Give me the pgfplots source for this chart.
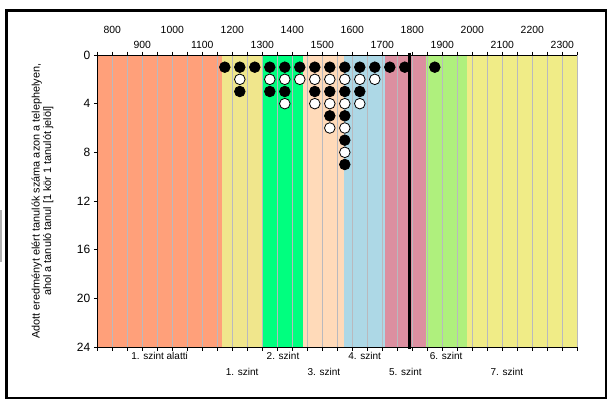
\documentclass[border=0pt]{standalone}
\usepackage{pgfplots}
\pgfplotsset{compat=1.18}
\usepackage{fontspec}
\setmainfont{Liberation Sans}
\definecolor{cAl}{RGB}{255,160,122}
\definecolor{cI}{RGB}{240,230,140}
\definecolor{cII}{RGB}{0,255,127}
\definecolor{cIII}{RGB}{255,218,185}
\definecolor{cIV}{RGB}{173,216,230}
\definecolor{cV}{RGB}{220,143,160}
\definecolor{cVI}{RGB}{175,240,125}
\definecolor{cVII}{RGB}{240,236,135}
\definecolor{gridc}{RGB}{185,185,190}
\newcommand\up[1]{\raisebox{15.3bp}{#1}}
\newcommand\dn[1]{\raisebox{-16bp}{#1}}
\begin{document}
\begin{tikzpicture}
\path (0,0) rectangle (615bp,-406bp);
\fill[gray!60] (0,-210bp) rectangle (2bp,-262bp);
\draw[line width=2.5bp] (6.5bp,-10.5bp) rectangle (606bp,-397.8bp);
\begin{axis}[
  at={(97.3bp,-55bp)}, anchor=north west,
  width=480bp, height=292bp, scale only axis,
  xmin=750, xmax=2350, ymin=0, ymax=24, y dir=reverse,
  set layers, clip=false,
  axis x line*=box, axis y line*=left,
  xtick={750,800,...,2350},
  xtick pos=both,
  xticklabel pos=right,
  xticklabels={{},\up{800},{},900,{},\up{1000},{},1100,{},\up{1200},{},1300,{},\up{1400},{},1500,{},\up{1600},{},1700,{},\up{1800},{},1900,{},\up{2000},{},2100,{},\up{2200},{},2300,{}},
  xticklabel style={anchor=base, yshift=3bp, font=\fontsize{10.4bp}{12bp}\selectfont},
  xmajorgrids, major grid style={draw=gridc, line width=0.9bp},
  ytick={0,4,...,24}, ytick pos=left,
  yticklabel style={font=\fontsize{12bp}{14bp}\selectfont},
  /pgf/number format/assume math mode=true,
  tick align=outside, major tick length=3.5bp,
  tick style={black, line width=0.8bp},
  axis line style={black, line width=0.9bp},
  ylabel={Adott eredményt elért tanulók száma azon a telephelyen,\\ahol a tanuló tanul [1 kör 1 tanulót jelöl]},
  ylabel style={at={(axis description cs:-0.114,0.5)}, anchor=center, align=center, font=\fontsize{10.9bp}{11.5bp}\selectfont},
]
\addplot[fill=cAl, draw=none, on layer=axis background] coordinates {(750,24) (1165,24)} \closedcycle;
\addplot[fill=cI, draw=none, on layer=axis background] coordinates {(1165,24) (1301,24)} \closedcycle;
\addplot[fill=cII, draw=none, on layer=axis background] coordinates {(1301,24) (1437,24)} \closedcycle;
\addplot[fill=cIII, draw=none, on layer=axis background] coordinates {(1437,24) (1573,24)} \closedcycle;
\addplot[fill=cIV, draw=none, on layer=axis background] coordinates {(1573,24) (1709,24)} \closedcycle;
\addplot[fill=cV, draw=none, on layer=axis background] coordinates {(1709,24) (1845,24)} \closedcycle;
\addplot[fill=cVI, draw=none, on layer=axis background] coordinates {(1845,24) (1981,24)} \closedcycle;
\addplot[fill=cVII, draw=none, on layer=axis background] coordinates {(1981,24) (2350,24)} \closedcycle;
\addplot[black, line width=2.5bp] coordinates {(1790,-0.2) (1790,24.2)};
\addplot[only marks, mark=*, mark size=5.3bp, mark options={fill=black, draw=black, line width=0.8bp}] coordinates {
(1175,1) (1225,1) (1225,3) (1275,1) (1325,1) (1325,3) (1375,1) (1375,3) (1425,1)
(1475,1) (1475,3) (1525,1) (1525,3) (1525,5) (1575,1) (1575,3) (1575,5) (1575,7) (1575,9)
(1625,1) (1625,3) (1675,1) (1725,1) (1775,1) (1875,1)};
\addplot[only marks, mark=*, mark size=5.3bp, mark options={fill=white, draw=black, line width=0.8bp}] coordinates {
(1225,2) (1325,2) (1375,2) (1375,4) (1425,2) (1475,2) (1475,4) (1525,2) (1525,4) (1525,6)
(1575,2) (1575,4) (1575,6) (1575,8) (1625,2) (1625,4) (1675,2)};
\end{axis}
\begin{axis}[
  at={(97.3bp,-55bp)}, anchor=north west,
  width=480bp, height=292bp, scale only axis,
  xmin=750, xmax=2350, ymin=0, ymax=24,
  hide y axis, axis x line*=bottom, axis line style={draw=none},
  xtick={957.5,1233,1369,1505,1641,1777,1913,2115},
  xticklabels={1. szint alatti,\dn{1. szint},2. szint,\dn{3. szint},4. szint,\dn{5. szint},6. szint,\dn{7. szint}},
  major tick length=0pt, xtick pos=left,
  xticklabel style={anchor=base, yshift=-12.7bp, font=\fontsize{10bp}{12bp}\selectfont},
]
\addplot[draw=none] coordinates {(750,0) (2350,24)};
\end{axis}
\end{tikzpicture}
\end{document}
